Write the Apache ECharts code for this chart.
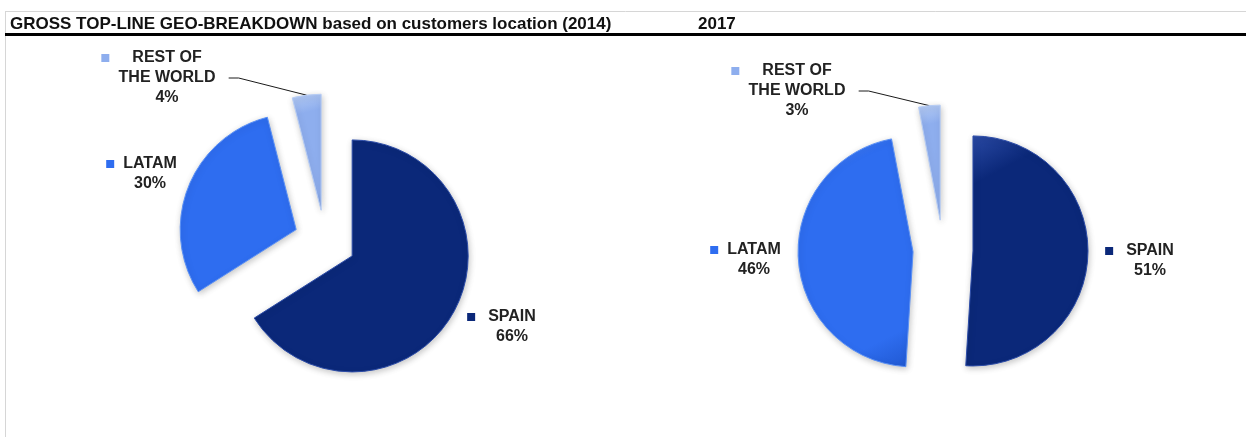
<!DOCTYPE html>
<html>
<head>
<meta charset="utf-8">
<script src="https://cdn.jsdelivr.net/npm/echarts@6/dist/echarts.min.js"></script>
<style>
  html, body { margin: 0; padding: 0; background: #fff; }
  #chart { width: 1246px; height: 437px; }
</style>
</head>
<body>
<div id="chart"></div>
<script>
// Revenue split by customer location, two years side by side
const regions = ['SPAIN', 'LATAM', 'REST OF THE WORLD'];
const share2014 = [66, 30, 4];
const share2017 = [51, 46, 3];
const titleText = 'GROSS TOP-LINE GEO-BREAKDOWN based on customers location (2014)';
const secondTitle = '2017';

const sliceColors = ['#0b2879', '#2e6df0', '#8eaeee'];
const sliceRims = ['#2c4ca8', '#5b91f6', '#b6ccf4'];
const sliceDeep = ['#061c5c', '#1f57d0', '#6f93da'];

// label name split into lines; the first line carries the colour key
const nameLines = {
  'SPAIN': ['SPAIN'],
  'LATAM': ['LATAM'],
  'REST OF THE WORLD': ['REST OF', 'THE WORLD']
};

const FONT = 'Liberation Sans, Arial, sans-serif';

function labelText(p) {
  const lines = nameLines[p.name];
  const k = 'k' + p.dataIndex;
  const g = 'g' + p.dataIndex;
  // key + gap on the left, balanced by gap + pad on the right so the name stays centred
  let s = '{' + k + '|}{' + g + '|}{t|' + lines[0] + '}{' + g + '|}{pad|}';
  for (let i = 1; i < lines.length; i++) s += '\n{t|' + lines[i] + '}';
  s += '\n{t|' + p.value + '%}';
  return s;
}

function labelRich(gaps) {
  const r = {
    t: { fontFamily: FONT, fontWeight: 'bold', fontSize: 16, color: '#222', lineHeight: 20 },
    pad: { width: 8, height: 8 }
  };
  sliceColors.forEach(function (c, i) {
    r['k' + i] = { width: 8, height: 8, backgroundColor: c };
    r['g' + i] = { width: gaps[i] };
  });
  return r;
}

function sliceFill(i) {
  return new echarts.graphic.LinearGradient(0, 0, 1, 1, [
    { offset: 0, color: sliceRims[i] },
    { offset: 0.18, color: sliceColors[i] },
    { offset: 0.85, color: sliceColors[i] },
    { offset: 1, color: sliceDeep[i] }
  ]);
}

// One pie series per slice, each pushed out along its own mid-angle
function explodedPie(values, center, radius, offset, labelPos, gaps) {
  const total = values.reduce(function (a, b) { return a + b; }, 0);
  let cum = 0;
  return values.map(function (v, idx) {
    const mid = (cum + v / 2) / total * 2 * Math.PI;
    cum += v;
    const cx = center[0] + offset * Math.sin(mid);
    const cy = center[1] - offset * Math.cos(mid);
    return {
      type: 'pie',
      center: [cx, cy],
      radius: radius,
      startAngle: 90,
      clockwise: true,
      animation: false,
      silent: true,
      avoidLabelOverlap: false,
      data: regions.map(function (name, i) {
        const on = i === idx;
        return {
          name: name,
          value: values[i],
          itemStyle: on ? {
            color: sliceFill(i),
            borderColor: sliceRims[i],
            borderWidth: 1,
            shadowBlur: 6,
            shadowColor: 'rgba(0,0,0,0.22)',
            shadowOffsetX: 1,
            shadowOffsetY: 2
          } : { color: 'rgba(0,0,0,0)', borderWidth: 0 },
          label: { show: on },
          labelLine: { show: on && i === 2, lineStyle: { color: '#1a1a1a', width: 1 } }
        };
      }),
      label: {
        position: 'outside',
        formatter: labelText,
        rich: labelRich(gaps)
      },
      labelLine: { length: 10, length2: 10, smooth: false },
      labelLayout: function (p) {
        const pos = labelPos[p.dataIndex];
        return { x: pos[0], y: pos[1], align: 'center', verticalAlign: 'middle' };
      }
    };
  });
}

const chart = echarts.init(document.getElementById('chart'), null, { renderer: 'canvas' });

chart.setOption({
  backgroundColor: '#ffffff',
  graphic: [
    { type: 'line', silent: true, shape: { x1: 5, y1: 11.5, x2: 1246, y2: 11.5 }, style: { stroke: '#d6d6d6', lineWidth: 1 } },
    { type: 'line', silent: true, shape: { x1: 5.5, y1: 11, x2: 5.5, y2: 437 }, style: { stroke: '#d6d6d6', lineWidth: 1 } },
    { type: 'rect', silent: true, shape: { x: 5, y: 33, width: 1241, height: 3 }, style: { fill: '#000' } },
    { type: 'text', silent: true, x: 10, y: 24, style: { text: titleText, fontFamily: FONT, fontWeight: 'bold', fontSize: 17, fill: '#111', verticalAlign: 'middle' } },
    { type: 'text', silent: true, x: 698, y: 24, style: { text: secondTitle, fontFamily: FONT, fontWeight: 'bold', fontSize: 17, fill: '#111', verticalAlign: 'middle' } }
  ],
  series: [].concat(
    explodedPie(share2014, [325, 241], 116, 31,
      [[512, 327], [150, 174], [167, 78]], [13, 9, 23]),
    explodedPie(share2017, [943, 250], 115, 30,
      [[1150, 261], [754, 260], [797, 91]], [13, 9, 23])
  )
});
</script>
</body>
</html>
